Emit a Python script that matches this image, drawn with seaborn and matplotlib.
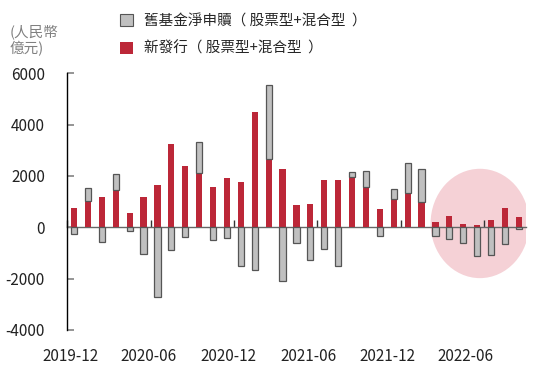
import numpy as np
import pandas as pd
import matplotlib
matplotlib.use("Agg")
import matplotlib.pyplot as plt
from matplotlib.patches import Ellipse, Patch
import seaborn as sns

# monthly data, 2019-12 onwards (億元)
months = pd.period_range("2019-12", periods=33, freq="M").strftime("%Y-%m").tolist()
new_issue = [750, 1030, 1200, 1450, 560, 1170, 1630, 3230, 2370, 2125,
             1565, 1940, 1750, 4490, 2650, 2260, 850, 890, 1860, 1860,
             1960, 1580, 730, 1100, 1330, 1000, 200, 440, 140, 100,
             300, 770, 420]
old_net = [-280, 520, -590, 610, -155, -1040, -2700, -890, -390, 1190,
           -495, -420, -1520, -1670, 2890, -2110, -625, -1280, -845, -1520,
           210, 620, -340, 400, 1190, 1280, -340, -455, -625, -1130,
           -1080, -650, -65]
xtick_labels = ["2019-12", "2020-06", "2020-12", "2021-06", "2021-12", "2022-06"]

RED = "#bc2738"
GREY = "#c0c0c0"
EDGE = "#555555"
FONT = ["Noto Sans CJK TC", "DejaVu Sans"]

sns.set_theme(style="white")
plt.rcParams["font.family"] = FONT
plt.rcParams["axes.unicode_minus"] = False

df = pd.DataFrame({"month": months, "new": new_issue, "old": old_net})
# positive net subscription is stacked on top of new issuance
bottom = np.where(df["old"] > 0, df["new"], 0)

fig = plt.figure(figsize=(5.5, 3.77), dpi=100)
ax = fig.add_axes([0.122, 0.1247, 0.834, 0.6809])

ax.add_patch(Ellipse((29.2, 150), width=7.1, height=4260, facecolor="#f5d1d6",
                     edgecolor="none", zorder=0))

sns.barplot(data=df, x="month", y="new", color=RED, saturation=1, width=0.45,
            errorbar=None, linewidth=0, ax=ax, zorder=2)
sns.barplot(data=df, x="month", y="old", color=GREY, saturation=1, width=0.45,
            errorbar=None, edgecolor=EDGE, linewidth=0.9, bottom=bottom,
            ax=ax, zorder=3)

ax.set_xlim(-0.5, 32.5)
ax.set_ylim(-4000, 6000)
ax.set_yticks(range(-4000, 6001, 2000))
ax.set_xlabel("")
ax.set_ylabel("")
for s in ["top", "right", "bottom"]:
    ax.spines[s].set_visible(False)
ax.spines["left"].set_color("black")
ax.spines["left"].set_linewidth(1)
ax.tick_params(axis="y", direction="in", length=5, color="#888888",
               labelsize=11, labelcolor="#222222", pad=16, left=True)
ax.set_xticks([-0.27, 5.34, 11.09, 16.84, 22.52, 28.19])
ax.set_xticklabels(xtick_labels)
ax.tick_params(axis="x", length=0, labelsize=11, labelcolor="#222222", pad=13)

# zero line with small category ticks pointing up
zero = ax.secondary_xaxis(0, transform=ax.transData)
for s in zero.spines.values():
    s.set_color("#666666")
    s.set_linewidth(1)
zero.set_xticks(np.arange(-0.5, 33, 6))
zero.tick_params(axis="x", which="both", direction="in", length=5,
                 color="#333333", width=1, labeltop=False, labelbottom=False)

fig.text(0.018, 0.935, "(人民幣\n億元)", fontsize=10.5, color="#808080",
         va="top", ha="left", linespacing=1.15)

handles = [Patch(facecolor=GREY, edgecolor=EDGE, linewidth=0.8),
           Patch(facecolor=RED, edgecolor="none")]
fig.legend(handles, ["舊基金淨申贖（ 股票型+混合型  ）", "新發行（ 股票型+混合型  ）"],
           loc="upper left", bbox_to_anchor=(0.195, 0.997), frameon=False,
           fontsize=10.5, handlelength=0.85, handleheight=0.85,
           handletextpad=0.8, labelspacing=0.9)

fig.savefig("out.png", dpi=100)
